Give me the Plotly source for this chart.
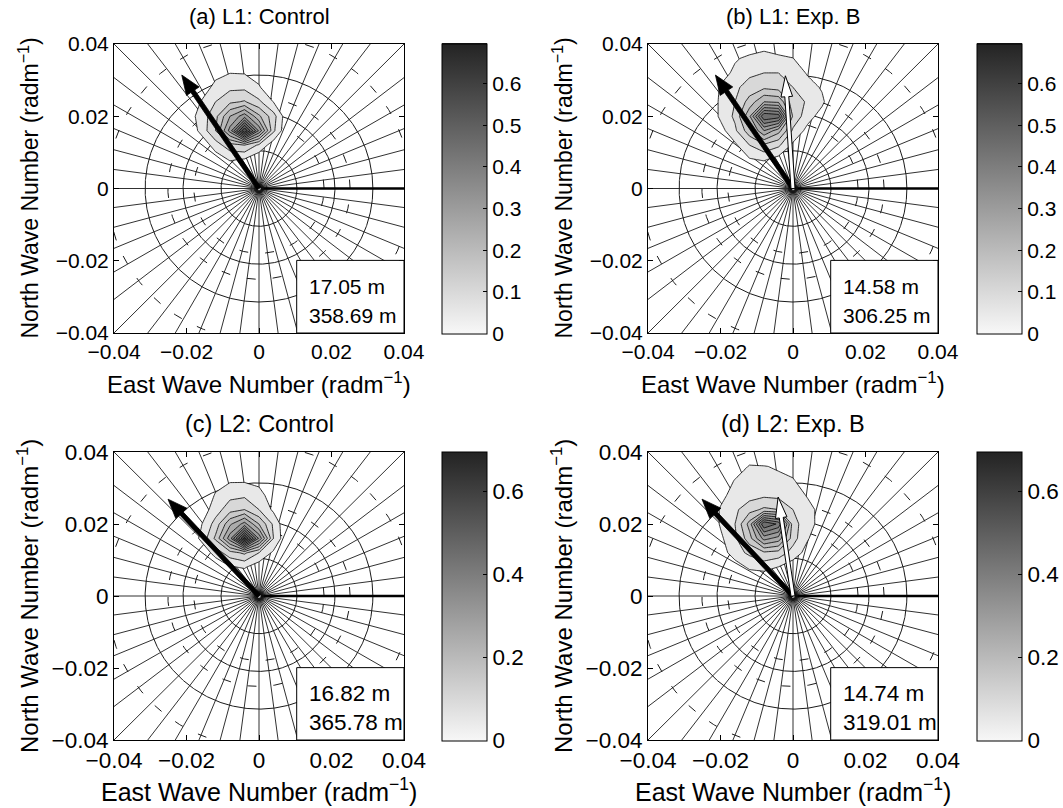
import numpy as np
import plotly.graph_objects as go

W, H = 1063, 808
FONT = "Liberation Sans, Arial, sans-serif"

# ---------------------------------------------------------------- data
# wavenumber grid (rad/m) on which the directional spectra are tabulated
kx = [-0.028, -0.024, -0.020, -0.016, -0.012, -0.008, -0.004, 0.000, 0.004, 0.008, 0.012]
ky = [0.000, 0.004, 0.008, 0.012, 0.016, 0.020, 0.024, 0.028, 0.032, 0.036, 0.040, 0.044]

# normalised spectral density; one row per ky value, one column per kx value
spec_l1_control = [
    [0, 0, 0, 0, 0, 0, 0, 0, 0, 0, 0],
    [0, 0, 0, 0, 0, 0, 0, 0, 0, 0, 0],
    [0, 0, 0, 0, 0.020, 0.055, 0.045, 0.010, 0, 0, 0],
    [0, 0, 0, 0.010, 0.075, 0.130, 0.150, 0.090, 0.020, 0, 0],
    [0, 0, 0, 0.065, 0.150, 0.320, 0.600, 0.340, 0.110, 0, 0],
    [0, 0, 0.020, 0.070, 0.135, 0.250, 0.330, 0.210, 0.120, 0.010, 0],
    [0, 0, 0, 0.052, 0.100, 0.140, 0.155, 0.110, 0.048, 0, 0],
    [0, 0, 0, 0.020, 0.065, 0.088, 0.088, 0.055, 0.010, 0, 0],
    [0, 0, 0, 0, 0.035, 0.049, 0.047, 0.030, 0, 0, 0],
    [0, 0, 0, 0, 0, 0, 0, 0, 0, 0, 0],
    [0, 0, 0, 0, 0, 0, 0, 0, 0, 0, 0],
    [0, 0, 0, 0, 0, 0, 0, 0, 0, 0, 0],
]
spec_l1_expb = [
    [0, 0, 0, 0, 0, 0, 0, 0, 0, 0, 0],
    [0, 0, 0, 0, 0, 0, 0, 0, 0, 0, 0],
    [0, 0, 0, 0, 0.045, 0.055, 0.030, 0, 0, 0, 0],
    [0, 0, 0, 0.040, 0.100, 0.140, 0.110, 0.040, 0, 0, 0],
    [0, 0, 0.030, 0.090, 0.180, 0.300, 0.220, 0.090, 0.035, 0, 0],
    [0, 0, 0.060, 0.110, 0.240, 0.500, 0.480, 0.140, 0.070, 0.030, 0],
    [0, 0, 0.060, 0.100, 0.170, 0.250, 0.240, 0.120, 0.095, 0.060, 0],
    [0, 0, 0.055, 0.090, 0.120, 0.140, 0.130, 0.100, 0.070, 0.045, 0],
    [0, 0, 0.030, 0.060, 0.090, 0.100, 0.100, 0.080, 0.045, 0, 0],
    [0, 0, 0, 0.045, 0.060, 0.060, 0.055, 0.052, 0, 0, 0],
    [0, 0, 0, 0, 0.020, 0.040, 0.035, 0, 0, 0, 0],
    [0, 0, 0, 0, 0, 0, 0, 0, 0, 0, 0],
]
spec_l2_control = [
    [0, 0, 0, 0, 0, 0, 0, 0, 0, 0, 0],
    [0, 0, 0, 0, 0, 0, 0, 0, 0, 0, 0],
    [0, 0, 0, 0, 0.010, 0.045, 0.055, 0.020, 0, 0, 0],
    [0, 0, 0, 0.010, 0.070, 0.130, 0.160, 0.100, 0.040, 0, 0],
    [0, 0, 0, 0.060, 0.160, 0.330, 0.620, 0.340, 0.100, 0, 0],
    [0, 0, 0, 0.045, 0.120, 0.240, 0.320, 0.200, 0.090, 0, 0],
    [0, 0, 0, 0.020, 0.075, 0.130, 0.150, 0.100, 0.040, 0, 0],
    [0, 0, 0, 0, 0.055, 0.085, 0.090, 0.070, 0.020, 0, 0],
    [0, 0, 0, 0, 0.030, 0.045, 0.045, 0.035, 0, 0, 0],
    [0, 0, 0, 0, 0, 0, 0, 0, 0, 0, 0],
    [0, 0, 0, 0, 0, 0, 0, 0, 0, 0, 0],
    [0, 0, 0, 0, 0, 0, 0, 0, 0, 0, 0],
]
spec_l2_expb = [
    [0, 0, 0, 0, 0, 0, 0, 0, 0, 0, 0],
    [0, 0, 0, 0, 0, 0, 0, 0, 0, 0, 0],
    [0, 0, 0, 0.020, 0.060, 0.070, 0.048, 0.020, 0, 0, 0],
    [0, 0, 0.020, 0.080, 0.110, 0.140, 0.130, 0.080, 0.030, 0, 0],
    [0, 0, 0.040, 0.090, 0.180, 0.320, 0.280, 0.120, 0.055, 0.010, 0],
    [0, 0, 0.055, 0.100, 0.220, 0.500, 0.440, 0.120, 0.070, 0.030, 0],
    [0, 0, 0.055, 0.090, 0.130, 0.160, 0.150, 0.100, 0.070, 0.030, 0],
    [0, 0, 0.035, 0.070, 0.080, 0.090, 0.085, 0.080, 0.045, 0, 0],
    [0, 0, 0, 0.055, 0.065, 0.065, 0.060, 0.055, 0.020, 0, 0],
    [0, 0, 0, 0.010, 0.055, 0.052, 0.045, 0.030, 0, 0, 0],
    [0, 0, 0, 0, 0, 0, 0, 0, 0, 0, 0],
    [0, 0, 0, 0, 0, 0, 0, 0, 0, 0, 0],
]
spectra = [spec_l1_control, spec_l1_expb, spec_l2_control, spec_l2_expb]

panel_titles = ["(a) L1: Control", "(b) L1: Exp. B", "(c) L2: Control", "(d) L2: Exp. B"]
hs_labels = ["17.05 m", "14.58 m", "16.82 m", "14.74 m"]
peak_wavelength_labels = ["358.69 m", "306.25 m", "365.78 m", "319.01 m"]

# mean-direction vectors (kx, ky) in rad/m
black_arrow_kx = [-0.0213, -0.0214, -0.0251, -0.0251]
black_arrow_ky = [0.0314, 0.0314, 0.0269, 0.0269]
white_arrow_kx = [None, -0.0021, None, -0.0041]
white_arrow_ky = [None, 0.0312, None, 0.0275]

# polar reference grid
spoke_step_deg = 7.5
solid_ring_wavelengths = [600, 300, 200]     # m
dashed_ring_wavelengths = [350, 250, 150]    # m

axis_ticks = [-0.04, -0.02, 0, 0.02, 0.04]
axis_tick_text = ["\u22120.04", "\u22120.02", "0", "0.02", "0.04"]
cbar_ticks_top = [0, 0.1, 0.2, 0.3, 0.4, 0.5, 0.6]
cbar_ticks_bottom = [0, 0.2, 0.4, 0.6]
cbar_max = 0.696

# contour levels
lev_start, lev_size, lev_end = 0.05, 0.05, 0.65

# ---------------------------------------------------------------- styling helpers
G_LO, G_HI = 247, 35


def gray(v):
    g = int(round(G_LO - (v / cbar_max) * (G_LO - G_HI)))
    g = max(min(g, 255), 0)
    return f"rgb({g},{g},{g})"


cbar_scale = [[0, gray(0)], [1, gray(cbar_max)]]

# filled bands: region below the first level stays transparent so the polar
# grid shows through; every band above it is an opaque grey step
nc = int(round((lev_end - lev_start) / lev_size)) + 1
contour_scale = [[0, "rgba(255,255,255,0)"], [0.25 / nc, "rgba(255,255,255,0)"]]
for q in np.linspace(0.25 / nc + 1e-4, 1, 80):
    v = lev_start + (q * nc - 1.0) * lev_size
    contour_scale.append([float(q), gray(max(v, 0.03))])

panels = [
    dict(x0=114, x1=404, y0=44, y1=333, cb=442, fs=21, fx=24, fy=23),
    dict(x0=648, x1=938, y0=44, y1=333, cb=977, fs=21, fx=24, fy=23),
    dict(x0=114, x1=404, y0=452, y1=740, cb=442, fs=22.5, fx=25, fy=24),
    dict(x0=648, x1=938, y0=452, y1=740, cb=977, fs=22.5, fx=25, fy=24),
]

fig = go.Figure()
annotations = []
shapes = []


def arrow_polygon(u, v, shaft_hw, head_len, head_hw):
    L = float(np.hypot(u, v))
    dx, dy = u / L, v / L
    nx, ny = -dy, dx
    b = L - head_len
    pts = [
        (nx * shaft_hw, ny * shaft_hw),
        (b * dx + nx * shaft_hw, b * dy + ny * shaft_hw),
        (b * dx + nx * head_hw, b * dy + ny * head_hw),
        (L * dx, L * dy),
        (b * dx - nx * head_hw, b * dy - ny * head_hw),
        (b * dx - nx * shaft_hw, b * dy - ny * shaft_hw),
        (-nx * shaft_hw, -ny * shaft_hw),
    ]
    pts.append(pts[0])
    return [p[0] for p in pts], [p[1] for p in pts]


theta_ring = np.linspace(0, 2 * np.pi, 721)

for i, p in enumerate(panels):
    sfx = "" if i == 0 else str(i + 1)
    xa, ya = "x" + sfx, "y" + sfx
    # overlay axes so the filled spectrum and arrows sit above the polar grid
    osfx = str(i + 5)
    xo, yo = "x" + osfx, "y" + osfx
    fs = p["fs"]

    # spokes of the direction grid
    sx, sy = [], []
    for ang in np.arange(0, 360, spoke_step_deg):
        a = np.deg2rad(ang)
        sx += [0.0006 * np.cos(a), 0.07 * np.cos(a), None]
        sy += [0.0006 * np.sin(a), 0.07 * np.sin(a), None]
    fig.add_trace(go.Scatter(x=sx, y=sy, mode="lines", line=dict(color="#1a1a1a", width=0.9),
                             xaxis=xa, yaxis=ya, hoverinfo="skip", showlegend=False))

    # wavelength rings
    rx, ry = [], []
    for lam in solid_ring_wavelengths:
        r = 2 * np.pi / lam
        rx += list(r * np.cos(theta_ring)) + [None]
        ry += list(r * np.sin(theta_ring)) + [None]
    fig.add_trace(go.Scatter(x=rx, y=ry, mode="lines", line=dict(color="#1a1a1a", width=1),
                             xaxis=xa, yaxis=ya, hoverinfo="skip", showlegend=False))
    for lam in dashed_ring_wavelengths:
        r = 2 * np.pi / lam
        fig.add_trace(go.Scatter(x=r * np.cos(theta_ring), y=r * np.sin(theta_ring), mode="lines",
                                 line=dict(color="#1a1a1a", width=1, dash="9px,17px"),
                                 xaxis=xa, yaxis=ya, hoverinfo="skip", showlegend=False))

    # heavier east reference line
    fig.add_trace(go.Scatter(x=[0, 0.07], y=[0, 0], mode="lines", line=dict(color="black", width=2.4),
                             xaxis=xa, yaxis=ya, hoverinfo="skip", showlegend=False))

    # hub where the spokes converge, with a white centre point
    fig.add_trace(go.Scatter(x=[0, 0], y=[0, 0], mode="markers",
                             marker=dict(color=["#111111", "white"], size=[10, 3.5], line=dict(width=0)),
                             xaxis=xa, yaxis=ya, hoverinfo="skip", showlegend=False))

    # filled spectrum contours
    fig.add_trace(go.Contour(
        x=kx, y=ky, z=spectra[i], xaxis=xo, yaxis=yo,
        autocontour=False,
        contours=dict(start=lev_start, end=lev_end, size=lev_size, coloring="fill"),
        colorscale=contour_scale, showscale=False,
        line=dict(color="black", width=0.8, smoothing=0),
        hoverinfo="skip",
    ))

    # mean-direction arrows
    ax_, ay_ = arrow_polygon(black_arrow_kx[i], black_arrow_ky[i], 0.00062, 0.0054, 0.0021)
    fig.add_trace(go.Scatter(x=ax_, y=ay_, mode="lines", fill="toself", fillcolor="black",
                             line=dict(color="black", width=0.8),
                             xaxis=xo, yaxis=yo, hoverinfo="skip", showlegend=False))
    if white_arrow_kx[i] is not None:
        wx_, wy_ = arrow_polygon(white_arrow_kx[i], white_arrow_ky[i], 0.00055, 0.0058, 0.0016)
        fig.add_trace(go.Scatter(x=wx_, y=wy_, mode="lines", fill="toself", fillcolor="white",
                                 line=dict(color="black", width=1),
                                 xaxis=xo, yaxis=yo, hoverinfo="skip", showlegend=False))

    # colour bar
    ticks = cbar_ticks_top if i < 2 else cbar_ticks_bottom
    fig.add_trace(go.Scatter(
        x=[None], y=[None], mode="markers", xaxis=xa, yaxis=ya, showlegend=False, hoverinfo="skip",
        marker=dict(color=[0], colorscale=cbar_scale, cmin=0, cmax=cbar_max, showscale=True,
                    colorbar=dict(
                        x=p["cb"] / W, xanchor="left", xpad=0,
                        y=1 - (p["y0"] + p["y1"]) / 2 / H, yanchor="middle", ypad=0,
                        len=p["y1"] - p["y0"] + 1, lenmode="pixels",
                        thickness=45, thicknessmode="pixels",
                        outlinewidth=1, outlinecolor="black",
                        ticks="inside", ticklen=4, tickcolor="black",
                        tickvals=ticks, ticktext=[f"{t:g}" for t in ticks],
                        tickfont=dict(family=FONT, size=fs, color="black"),
                    )),
    ))

    axis_common = dict(range=[-0.04, 0.04], tickvals=axis_ticks, ticktext=axis_tick_text,
                       ticks="inside", ticklen=5, tickcolor="black", showline=True, mirror="ticks",
                       linecolor="black", linewidth=1, showgrid=False, zeroline=False,
                       tickfont=dict(family=FONT, size=fs, color="black"), fixedrange=True,
                       automargin=False)
    fig.layout["xaxis" + sfx] = dict(domain=[p["x0"] / W, p["x1"] / W], anchor=ya, **axis_common)
    fig.layout["yaxis" + sfx] = dict(domain=[1 - p["y1"] / H, 1 - p["y0"] / H], anchor=xa, **axis_common)
    fig.layout["xaxis" + osfx] = dict(overlaying=xa, anchor=yo, range=[-0.04, 0.04], visible=False,
                                      fixedrange=True, showgrid=False, zeroline=False)
    fig.layout["yaxis" + osfx] = dict(overlaying=ya, anchor=xo, range=[-0.04, 0.04], visible=False,
                                      fixedrange=True, showgrid=False, zeroline=False)

    # statistics box
    shapes.append(dict(type="rect", xref=xa, yref=ya, x0=0.0104, x1=0.04, y0=-0.04, y1=-0.0199,
                       fillcolor="white", line=dict(color="black", width=1), layer="above"))
    annotations.append(dict(x=0.0132, y=-0.0272, xref=xa, yref=ya, text=hs_labels[i], showarrow=False,
                            xanchor="left", yanchor="middle", font=dict(family=FONT, size=fs, color="black")))
    annotations.append(dict(x=0.0132, y=-0.0352, xref=xa, yref=ya, text=peak_wavelength_labels[i],
                            showarrow=False, xanchor="left", yanchor="middle",
                            font=dict(family=FONT, size=fs, color="black")))

    # titles and axis labels
    cx = (p["x0"] + p["x1"]) / 2 / W
    cy = 1 - (p["y0"] + p["y1"]) / 2 / H
    annotations.append(dict(x=cx, y=1 - (p["y0"] - 28) / H, xref="paper", yref="paper",
                            text=panel_titles[i], showarrow=False, xanchor="center", yanchor="middle",
                            font=dict(family=FONT, size=fs + 1, color="black")))
    annotations.append(dict(x=cx, y=1 - (p["y1"] + 50) / H, xref="paper", yref="paper",
                            text="East Wave Number (radm<sup>\u22121</sup>)", showarrow=False,
                            xanchor="center", yanchor="middle",
                            font=dict(family=FONT, size=p["fx"], color="black")))
    annotations.append(dict(x=(p["x0"] - 86) / W, y=cy, xref="paper", yref="paper",
                            text="North Wave Number (radm<sup>\u22121</sup>)", showarrow=False,
                            textangle=-90, xanchor="center", yanchor="middle",
                            font=dict(family=FONT, size=p["fy"], color="black")))

fig.update_layout(
    width=W, height=H,
    margin=dict(l=0, r=0, t=0, b=0, pad=0, autoexpand=False),
    paper_bgcolor="white", plot_bgcolor="white",
    font=dict(family=FONT, color="black"),
    annotations=annotations, shapes=shapes,
    showlegend=False,
)

fig.write_html("out.html")
